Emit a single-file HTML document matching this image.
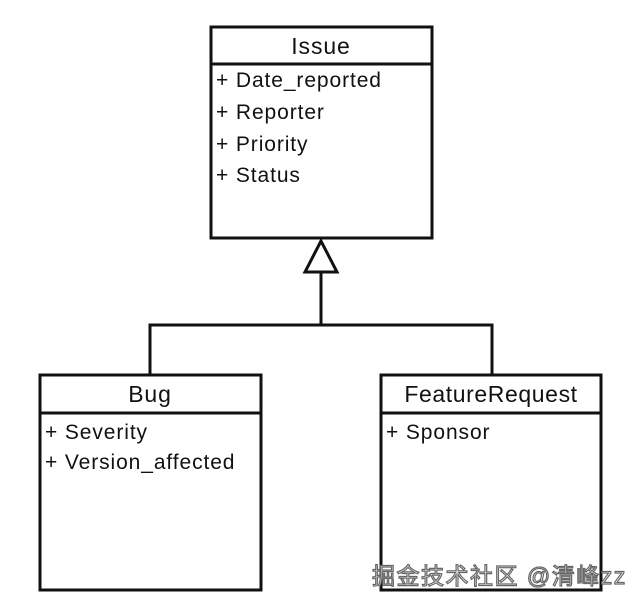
<!DOCTYPE html>
<html><head><meta charset="utf-8"><style>
body{margin:0;background:#fff;}
svg text{font-family:"Liberation Sans","DejaVu Sans",sans-serif;fill:#111;}
</style></head><body>
<svg width="632" height="608" viewBox="0 0 632 608" xmlns="http://www.w3.org/2000/svg">
<g fill="none" stroke="#111" stroke-width="3">
<rect x="211" y="27" width="221" height="211"/>
<line x1="211" y1="64" x2="432" y2="64"/>
<rect x="40" y="375" width="221" height="215"/>
<line x1="40" y1="413" x2="261" y2="413"/>
<rect x="381" y="375" width="220" height="215"/>
<line x1="381" y1="413" x2="601" y2="413"/>
<polyline points="150,375 150,325 492,325 492,375"/>
<line x1="321" y1="272" x2="321" y2="325"/>
<polygon points="321,241 305,272 337,272" fill="#fff"/>
</g>
<g font-size="21" letter-spacing="0.9" style="font-weight:500">
<text x="321" y="54" text-anchor="middle" font-size="23">Issue</text>
<text x="216" y="87">+ Date_reported</text>
<text x="216" y="119">+ Reporter</text>
<text x="216" y="151">+ Priority</text>
<text x="216" y="182">+ Status</text>
<text x="150" y="402" text-anchor="middle" font-size="23">Bug</text>
<text x="45" y="439">+ Severity</text>
<text x="45" y="469">+ Version_affected</text>
<text x="491" y="402" text-anchor="middle" font-size="23" letter-spacing="0.6">FeatureRequest</text>
<text x="386" y="439">+ Sponsor</text>
</g>
<text x="372" y="584" font-size="23" letter-spacing="1.5" style="font-family:'Liberation Sans','Noto Sans CJK SC',sans-serif;fill:#fff;stroke:#666;stroke-width:1.2">掘金技术社区 @清峰zz</text>
</svg>
</body></html>
